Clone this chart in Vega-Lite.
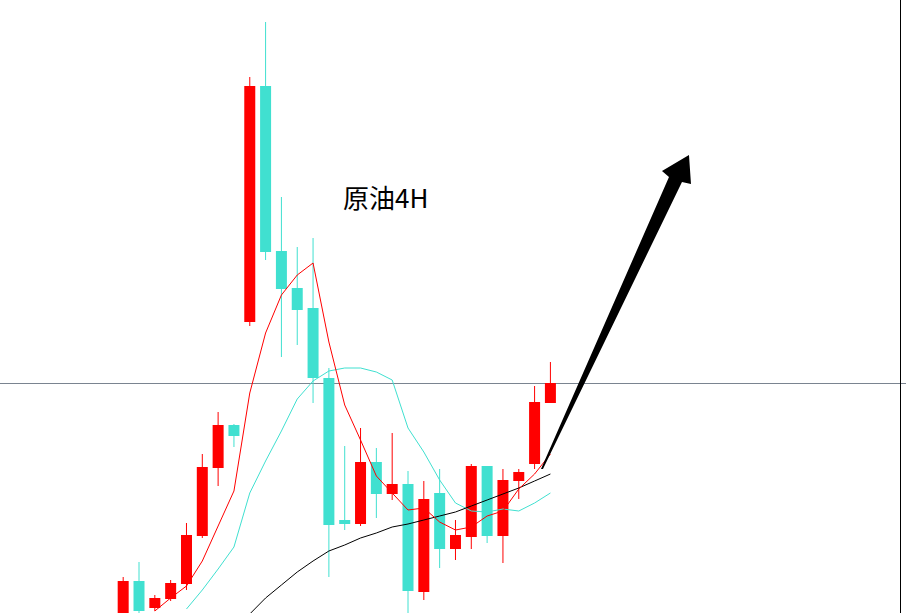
{
  "$schema": "https://vega.github.io/schema/vega-lite/v6.json",
  "width": 906,
  "height": 613,
  "autosize": "none",
  "padding": 0,
  "background": "white",
  "config": {"view": {"stroke": null}},
  "datasets": {
    "candles": [
      {"bar": 0, "open": 71.60, "high": 72.46, "low": 71.50, "close": 72.38, "ma5": null, "ma10": null, "ma20": null},
      {"bar": 1, "open": 72.38, "high": 72.76, "low": 71.70, "close": 71.78, "ma5": null, "ma10": null, "ma20": null},
      {"bar": 2, "open": 71.84, "high": 72.10, "low": 71.78, "close": 72.04, "ma5": 71.78, "ma10": null, "ma20": null},
      {"bar": 3, "open": 72.02, "high": 72.40, "low": 71.98, "close": 72.34, "ma5": 72.04, "ma10": null, "ma20": null},
      {"bar": 4, "open": 72.32, "high": 73.54, "low": 72.20, "close": 73.30, "ma5": 72.28, "ma10": 71.82, "ma20": null},
      {"bar": 5, "open": 73.28, "high": 74.92, "low": 73.24, "close": 74.66, "ma5": 72.78, "ma10": 72.20, "ma20": null},
      {"bar": 6, "open": 74.64, "high": 75.76, "low": 74.28, "close": 75.50, "ma5": 73.48, "ma10": 72.62, "ma20": null},
      {"bar": 7, "open": 75.50, "high": 75.52, "low": 75.06, "close": 75.28, "ma5": 74.18, "ma10": 73.06, "ma20": null},
      {"bar": 8, "open": 77.56, "high": 82.46, "low": 77.48, "close": 82.28, "ma5": 76.14, "ma10": 74.14, "ma20": 71.72},
      {"bar": 9, "open": 82.28, "high": 83.56, "low": 78.80, "close": 78.96, "ma5": 77.34, "ma10": 74.78, "ma20": 72.04},
      {"bar": 10, "open": 78.98, "high": 80.06, "low": 76.86, "close": 78.22, "ma5": 78.10, "ma10": 75.38, "ma20": 72.30},
      {"bar": 11, "open": 78.24, "high": 79.06, "low": 77.10, "close": 77.80, "ma5": 78.50, "ma10": 76.02, "ma20": 72.56},
      {"bar": 12, "open": 77.84, "high": 79.24, "low": 75.94, "close": 76.44, "ma5": 78.74, "ma10": 76.38, "ma20": 72.78},
      {"bar": 13, "open": 76.44, "high": 76.64, "low": 72.46, "close": 73.50, "ma5": 77.16, "ma10": 76.58, "ma20": 72.98},
      {"bar": 14, "open": 73.60, "high": 75.08, "low": 73.40, "close": 73.52, "ma5": 75.90, "ma10": 76.64, "ma20": 73.10},
      {"bar": 15, "open": 73.52, "high": 75.44, "low": 73.48, "close": 74.76, "ma5": 75.20, "ma10": 76.64, "ma20": 73.24},
      {"bar": 16, "open": 74.76, "high": 75.04, "low": 73.64, "close": 74.12, "ma5": 74.48, "ma10": 76.56, "ma20": 73.34},
      {"bar": 17, "open": 74.12, "high": 75.34, "low": 74.00, "close": 74.32, "ma5": 74.14, "ma10": 76.40, "ma20": 73.46},
      {"bar": 18, "open": 74.32, "high": 74.58, "low": 71.68, "close": 72.18, "ma5": 73.80, "ma10": 75.44, "ma20": 73.52},
      {"bar": 19, "open": 72.16, "high": 74.38, "low": 72.00, "close": 74.02, "ma5": 73.84, "ma10": 74.96, "ma20": 73.60},
      {"bar": 20, "open": 74.14, "high": 74.62, "low": 72.64, "close": 73.02, "ma5": 73.56, "ma10": 74.40, "ma20": 73.68},
      {"bar": 21, "open": 73.02, "high": 73.60, "low": 72.80, "close": 73.30, "ma5": 73.40, "ma10": 73.94, "ma20": 73.76},
      {"bar": 22, "open": 73.26, "high": 74.72, "low": 73.02, "close": 74.68, "ma5": 73.46, "ma10": 73.78, "ma20": 73.88},
      {"bar": 23, "open": 74.68, "high": 74.68, "low": 73.14, "close": 73.28, "ma5": 73.68, "ma10": 73.76, "ma20": 74.00},
      {"bar": 24, "open": 73.28, "high": 74.62, "low": 72.74, "close": 74.40, "ma5": 73.78, "ma10": 73.82, "ma20": 74.12},
      {"bar": 25, "open": 74.38, "high": 74.62, "low": 74.02, "close": 74.56, "ma5": 74.22, "ma10": 73.78, "ma20": 74.24},
      {"bar": 26, "open": 74.72, "high": 76.28, "low": 74.62, "close": 75.96, "ma5": 74.52, "ma10": 73.94, "ma20": 74.38},
      {"bar": 27, "open": 75.94, "high": 76.76, "low": 75.94, "close": 76.34, "ma5": 74.92, "ma10": 74.14, "ma20": 74.52}
    ],
    "labels": [
      {"bar": 16.59, "price": 79.84, "label": "原油4H"}
    ],
    "arrow": [
      {"bar": 26.59375, "price": 74.74}
    ],
    "levels": [
      {"price": 76.33}
    ],
    "edge": [
      {"bar": 49.125}
    ]
  },
  "layer": [
    {
      "data": {"name": "levels"},
      "mark": {"type": "rule", "color": "#7a8490", "strokeWidth": 1},
      "encoding": {
        "y": {"field": "price", "type": "quantitative", "scale": {"domain": [71.74, 84], "zero": false, "nice": false}, "axis": null}
      }
    },
    {
      "data": {"name": "candles"},
      "mark": {"type": "rule", "strokeWidth": 1, "clip": true},
      "encoding": {
        "x": {"field": "bar", "type": "quantitative", "scale": {"domain": [-7.46875, 49.15625], "zero": false, "nice": false}, "axis": null},
        "y": {"field": "low", "type": "quantitative", "axis": null},
        "y2": {"field": "high"},
        "color": {"condition": {"test": "datum.close >= datum.open", "value": "#ff0000"}, "value": "#40e0d0"}
      }
    },
    {
      "data": {"name": "candles"},
      "mark": {"type": "bar", "width": 11, "clip": true},
      "encoding": {
        "x": {"field": "bar", "type": "quantitative", "axis": null},
        "y": {"field": "open", "type": "quantitative", "axis": null},
        "y2": {"field": "close"},
        "color": {"condition": {"test": "datum.close >= datum.open", "value": "#ff0000"}, "value": "#40e0d0"}
      }
    },
    {
      "data": {"name": "candles"},
      "mark": {"type": "line", "color": "#40e0d0", "strokeWidth": 1, "clip": true},
      "encoding": {
        "x": {"field": "bar", "type": "quantitative", "axis": null},
        "y": {"field": "ma10", "type": "quantitative", "axis": null}
      }
    },
    {
      "data": {"name": "candles"},
      "mark": {"type": "line", "color": "#000000", "strokeWidth": 1, "clip": true},
      "encoding": {
        "x": {"field": "bar", "type": "quantitative", "axis": null},
        "y": {"field": "ma20", "type": "quantitative", "axis": null}
      }
    },
    {
      "data": {"name": "candles"},
      "mark": {"type": "line", "color": "#ff0000", "strokeWidth": 1, "clip": true},
      "encoding": {
        "x": {"field": "bar", "type": "quantitative", "axis": null},
        "y": {"field": "ma5", "type": "quantitative", "axis": null}
      }
    },
    {
      "data": {"name": "labels"},
      "mark": {"type": "text", "font": "Noto Sans CJK SC", "fontSize": 26, "align": "center", "baseline": "alphabetic", "color": "#000000"},
      "encoding": {
        "x": {"field": "bar", "type": "quantitative", "axis": null},
        "y": {"field": "price", "type": "quantitative", "axis": null},
        "text": {"field": "label"}
      }
    },
    {
      "data": {"name": "arrow"},
      "mark": {"type": "point", "shape": "M-0.03,0.06L1.25,-2.86L1.18,-2.92L1.45,-3.08L1.47,-2.79L1.38,-2.81L-0.01,0.06Z", "size": 40000, "filled": true, "color": "#000000", "opacity": 1, "strokeWidth": 0},
      "encoding": {
        "x": {"field": "bar", "type": "quantitative", "axis": null},
        "y": {"field": "price", "type": "quantitative", "axis": null}
      }
    },
    {
      "data": {"name": "edge"},
      "mark": {"type": "rule", "color": "#000000", "strokeWidth": 1},
      "encoding": {
        "x": {"field": "bar", "type": "quantitative", "axis": null}
      }
    }
  ]
}
